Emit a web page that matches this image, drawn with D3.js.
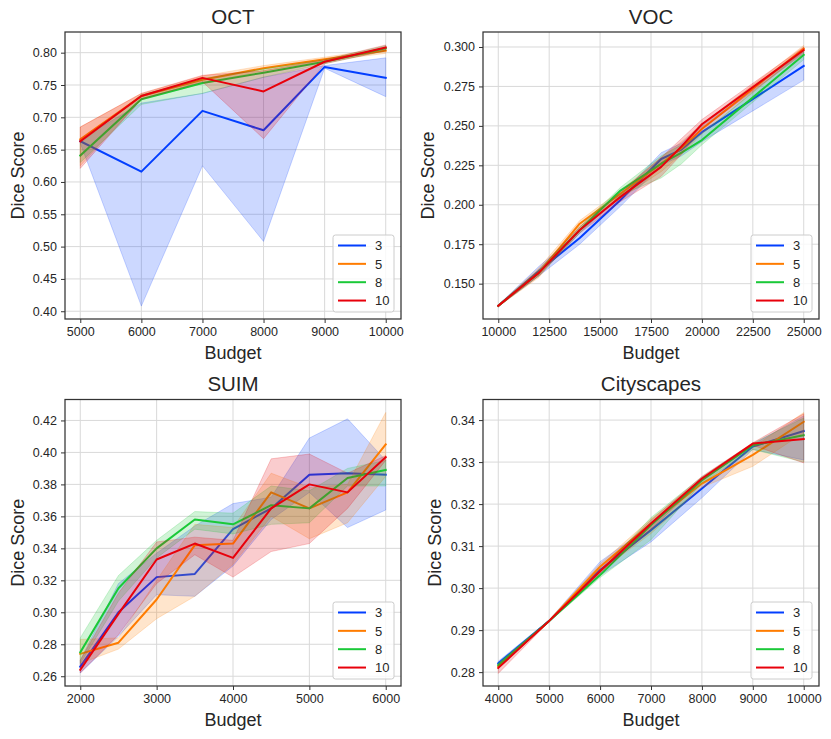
<!DOCTYPE html>
<html>
<head>
<meta charset="utf-8">
<script src="https://cdn.jsdelivr.net/npm/d3@7"></script>
<style>
  html, body { margin: 0; padding: 0; background: #ffffff; }
  svg { display: block; font-family: "Liberation Sans", Arial, sans-serif; }
</style>
</head>
<body>
<svg id="chart" width="831" height="739"></svg>
<script>
// ---------------- DATA ----------------
const seriesLabels = ["3", "5", "8", "10"];

// OCT
const octBudget = [5000, 6000, 7000, 8000, 9000, 10000];
const octMean = [
  [0.663, 0.616, 0.710, 0.680, 0.778, 0.761],
  [0.666, 0.733, 0.758, 0.776, 0.790, 0.803],
  [0.641, 0.728, 0.753, 0.769, 0.786, 0.807],
  [0.663, 0.733, 0.761, 0.740, 0.786, 0.808]
];
const octLow = [
  [0.660, 0.408, 0.625, 0.508, 0.776, 0.732],
  [0.625, 0.728, 0.752, 0.772, 0.787, 0.799],
  [0.630, 0.720, 0.737, 0.762, 0.783, 0.803],
  [0.621, 0.728, 0.755, 0.667, 0.783, 0.803]
];
const octHigh = [
  [0.666, 0.722, 0.737, 0.762, 0.780, 0.792],
  [0.685, 0.737, 0.764, 0.780, 0.793, 0.807],
  [0.660, 0.735, 0.760, 0.775, 0.789, 0.811],
  [0.685, 0.737, 0.765, 0.772, 0.789, 0.812]
];
const octYTicks = [0.40, 0.45, 0.50, 0.55, 0.60, 0.65, 0.70, 0.75, 0.80];
const octXTicks = [5000, 6000, 7000, 8000, 9000, 10000];

// VOC
const vocBudget = [10000, 12000, 14000, 16000, 18000, 19000, 20000, 25000];
const vocMean = [
  [0.136, 0.158, 0.179, 0.203, 0.229, 0.235, 0.246, 0.288],
  [0.136, 0.157, 0.188, 0.207, 0.226, 0.236, 0.248, 0.299],
  [0.136, 0.157, 0.184, 0.209, 0.226, 0.233, 0.241, 0.295],
  [0.136, 0.157, 0.184, 0.205, 0.224, 0.237, 0.251, 0.298]
];
const vocLow = [
  [0.1355, 0.155, 0.175, 0.199, 0.225, 0.231, 0.240, 0.279],
  [0.1355, 0.154, 0.186, 0.204, 0.221, 0.232, 0.245, 0.297],
  [0.1355, 0.155, 0.182, 0.206, 0.217, 0.226, 0.238, 0.292],
  [0.1355, 0.155, 0.182, 0.202, 0.218, 0.232, 0.248, 0.296]
];
const vocHigh = [
  [0.1365, 0.161, 0.183, 0.206, 0.233, 0.239, 0.251, 0.297],
  [0.1365, 0.160, 0.190, 0.209, 0.230, 0.240, 0.251, 0.301],
  [0.1365, 0.159, 0.186, 0.211, 0.231, 0.238, 0.245, 0.298],
  [0.1365, 0.159, 0.186, 0.208, 0.230, 0.242, 0.254, 0.300]
];
const vocYTicks = [0.150, 0.175, 0.200, 0.225, 0.250, 0.275, 0.300];
const vocXTicks = [10000, 12500, 15000, 17500, 20000, 22500, 25000];

// SUIM
const suimBudget = [2000, 2500, 3000, 3500, 4000, 4500, 5000, 5500, 6000];
const suimMean = [
  [0.266, 0.300, 0.322, 0.324, 0.352, 0.365, 0.386, 0.387, 0.386],
  [0.274, 0.281, 0.308, 0.342, 0.343, 0.375, 0.365, 0.375, 0.405],
  [0.275, 0.315, 0.340, 0.358, 0.355, 0.367, 0.365, 0.384, 0.389],
  [0.264, 0.299, 0.333, 0.343, 0.334, 0.365, 0.380, 0.375, 0.397]
];
const suimLow = [
  [0.262, 0.285, 0.311, 0.310, 0.329, 0.358, 0.375, 0.353, 0.364],
  [0.268, 0.277, 0.296, 0.310, 0.330, 0.360, 0.346, 0.356, 0.385],
  [0.268, 0.307, 0.334, 0.352, 0.349, 0.355, 0.356, 0.379, 0.379],
  [0.262, 0.286, 0.318, 0.336, 0.322, 0.338, 0.343, 0.365, 0.395]
];
const suimHigh = [
  [0.270, 0.318, 0.337, 0.354, 0.368, 0.372, 0.409, 0.421, 0.395],
  [0.283, 0.284, 0.320, 0.355, 0.353, 0.387, 0.378, 0.380, 0.425],
  [0.284, 0.323, 0.345, 0.363, 0.362, 0.379, 0.376, 0.390, 0.395],
  [0.270, 0.312, 0.344, 0.347, 0.345, 0.396, 0.399, 0.387, 0.398]
];
const suimYTicks = [0.26, 0.28, 0.30, 0.32, 0.34, 0.36, 0.38, 0.40, 0.42];
const suimXTicks = [2000, 3000, 4000, 5000, 6000];

// Cityscapes
const cityBudget = [4000, 5000, 6000, 7000, 8000, 9000, 10000];
const cityMean = [
  [0.2821, 0.2922, 0.3043, 0.3138, 0.3237, 0.3337, 0.3374],
  [0.2814, 0.2922, 0.3051, 0.3154, 0.3249, 0.3317, 0.3396],
  [0.2817, 0.2922, 0.3031, 0.3150, 0.3257, 0.3340, 0.3364],
  [0.2810, 0.2922, 0.3040, 0.3154, 0.3261, 0.3344, 0.3355]
];
const cityLow = [
  [0.2816, 0.2920, 0.3030, 0.3110, 0.3215, 0.3330, 0.3305],
  [0.2809, 0.2920, 0.3040, 0.3130, 0.3240, 0.3290, 0.3370],
  [0.2812, 0.2920, 0.3025, 0.3115, 0.3250, 0.3330, 0.3300],
  [0.2797, 0.2920, 0.3035, 0.3140, 0.3255, 0.3340, 0.3298]
];
const cityHigh = [
  [0.2826, 0.2924, 0.3063, 0.3150, 0.3260, 0.3342, 0.3410],
  [0.2819, 0.2924, 0.3058, 0.3165, 0.3260, 0.3335, 0.3418],
  [0.2822, 0.2924, 0.3040, 0.3168, 0.3265, 0.3345, 0.3405],
  [0.2818, 0.2924, 0.3045, 0.3162, 0.3266, 0.3346, 0.3415]
];
const cityYTicks = [0.28, 0.29, 0.30, 0.31, 0.32, 0.33, 0.34];
const cityXTicks = [4000, 5000, 6000, 7000, 8000, 9000, 10000];

// ---------------- STYLE ----------------
const colors = ["#023eff", "#ff7c00", "#1ac938", "#e8000b"];
const textColor = "#262626";

const panels = [
  { title: "OCT", budget: octBudget, mean: octMean, low: octLow, high: octHigh,
    xTicks: octXTicks, yTicks: octYTicks, yFmt: ".2f",
    box: { l: 65, r: 401, t: 32, b: 319 }, yDomain: [0.388, 0.832], ylabOff: 41 },
  { title: "VOC", budget: vocBudget, mean: vocMean, low: vocLow, high: vocHigh,
    xTicks: vocXTicks, yTicks: vocYTicks, yFmt: ".3f",
    box: { l: 483, r: 819, t: 32, b: 319 }, yDomain: [0.1276, 0.3095], ylabOff: 49 },
  { title: "SUIM", budget: suimBudget, mean: suimMean, low: suimLow, high: suimHigh,
    xTicks: suimXTicks, yTicks: suimYTicks, yFmt: ".2f",
    box: { l: 65, r: 401, t: 399.5, b: 686 }, yDomain: [0.2539, 0.4331], ylabOff: 41 },
  { title: "Cityscapes", budget: cityBudget, mean: cityMean, low: cityLow, high: cityHigh,
    xTicks: cityXTicks, yTicks: cityYTicks, yFmt: ".2f",
    box: { l: 483, r: 819, t: 399.5, b: 686 }, yDomain: [0.2767, 0.3449], ylabOff: 42.5 }
];

const svg = d3.select("#chart");

panels.forEach(p => {
  const { l, r, t, b } = p.box;
  const xmin = d3.min(p.budget), xmax = d3.max(p.budget);
  const pad = (xmax - xmin) * 0.05;
  const x = d3.scaleLinear().domain([xmin - pad, xmax + pad]).range([l, r]);
  const y = d3.scaleLinear().domain(p.yDomain).range([b, t]);

  const g = svg.append("g");

  // grid
  g.append("g").selectAll("line.vg").data(p.xTicks).join("line")
    .attr("x1", d => x(d)).attr("x2", d => x(d)).attr("y1", t).attr("y2", b)
    .attr("stroke", "#d9d9d9").attr("stroke-width", 1);
  g.append("g").selectAll("line.hg").data(p.yTicks).join("line")
    .attr("x1", l).attr("x2", r).attr("y1", d => y(d)).attr("y2", d => y(d))
    .attr("stroke", "#d9d9d9").attr("stroke-width", 1);

  // series
  seriesLabels.forEach((lab, i) => {
    const rows = p.budget.map((bx, j) => ({ x: bx, m: p.mean[i][j], lo: p.low[i][j], hi: p.high[i][j] }));
    const area = d3.area().x(d => x(d.x)).y0(d => y(d.lo)).y1(d => y(d.hi));
    g.append("path").datum(rows).attr("d", area)
      .attr("fill", colors[i]).attr("fill-opacity", 0.2)
      .attr("stroke", colors[i]).attr("stroke-opacity", 0.2).attr("stroke-width", 1);
    const line = d3.line().x(d => x(d.x)).y(d => y(d.m));
    g.append("path").datum(rows).attr("d", line)
      .attr("fill", "none").attr("stroke", colors[i]).attr("stroke-width", 2)
      .attr("stroke-linejoin", "round").attr("stroke-linecap", "square");
  });

  // axes
  const xAxis = d3.axisBottom(x).tickValues(p.xTicks).tickSize(4).tickPadding(4).tickFormat(d3.format("d"));
  const yAxis = d3.axisLeft(y).tickValues(p.yTicks).tickSize(4).tickPadding(4).tickFormat(d3.format(p.yFmt));
  const gx = g.append("g").attr("transform", `translate(0,${b})`).call(xAxis);
  const gy = g.append("g").attr("transform", `translate(${l},0)`).call(yAxis);
  [gx, gy].forEach(ax => {
    ax.select(".domain").remove();
    ax.selectAll(".tick line").attr("stroke", "#333").attr("stroke-width", 1);
    ax.selectAll(".tick text").attr("fill", textColor).style("font-size", "12.5px")
      .style("font-family", "'Liberation Sans', Arial, sans-serif");
  });
  gx.selectAll(".tick text").attr("dy", "0.71em");

  // frame
  g.append("rect").attr("x", l).attr("y", t).attr("width", r - l).attr("height", b - t)
    .attr("fill", "none").attr("stroke", "#333").attr("stroke-width", 1.25);

  // title
  g.append("text").attr("x", (l + r) / 2).attr("y", t - 8.5).attr("text-anchor", "middle")
    .attr("fill", textColor).style("font-size", "20.5px").text(p.title);

  // x label
  g.append("text").attr("x", (l + r) / 2).attr("y", b + 39.5).attr("text-anchor", "middle")
    .attr("fill", textColor).style("font-size", "18px").text("Budget");

  // y label
  g.append("text").attr("transform", `translate(${l - p.ylabOff},${(t + b) / 2}) rotate(-90)`)
    .attr("text-anchor", "middle").attr("fill", textColor).style("font-size", "18px").text("Dice Score");

  // legend
  const lw = 61, lh = 77;
  const lx = r - 7 - lw, ly = b - 7 - lh;
  const lg = g.append("g").attr("transform", `translate(${lx},${ly})`);
  lg.append("rect").attr("width", lw).attr("height", lh).attr("rx", 2.5)
    .attr("fill", "#ffffff").attr("fill-opacity", 0.8).attr("stroke", "#cccccc").attr("stroke-width", 1);
  seriesLabels.forEach((lab, i) => {
    const yy = 10.5 + i * 18.35;
    lg.append("line").attr("x1", 5).attr("x2", 33).attr("y1", yy).attr("y2", yy)
      .attr("stroke", colors[i]).attr("stroke-width", 2);
    lg.append("text").attr("x", 42).attr("y", yy).attr("dy", "0.36em")
      .attr("fill", textColor).style("font-size", "13px").text(lab);
  });
});
</script>
</body>
</html>
